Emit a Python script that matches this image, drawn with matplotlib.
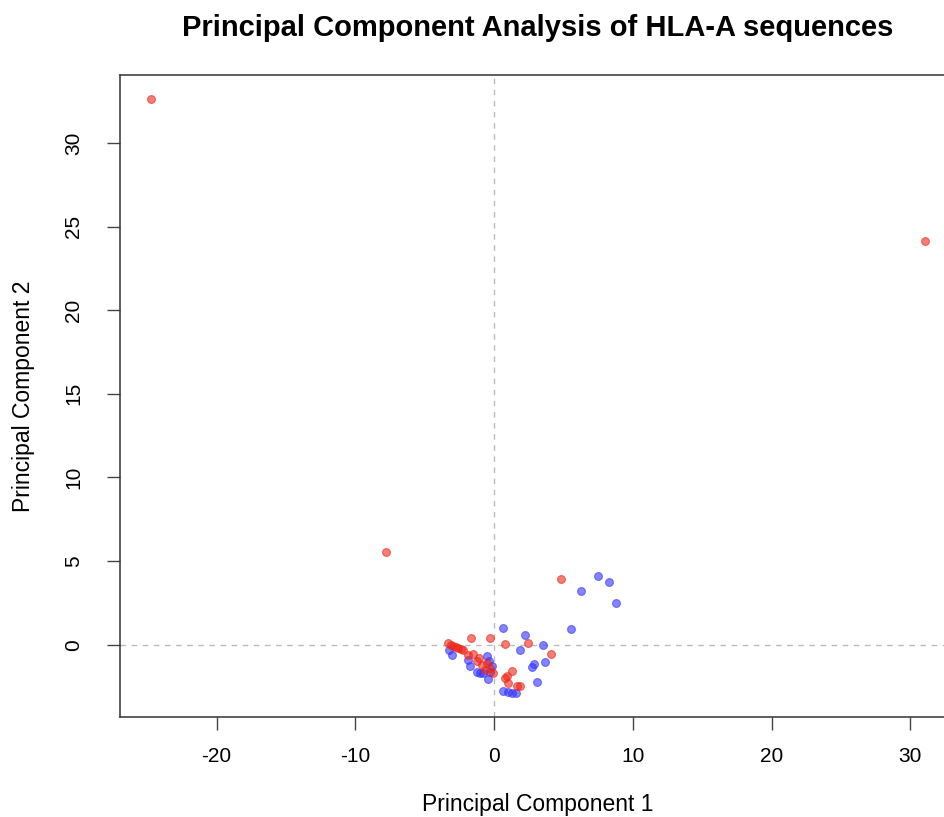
import matplotlib
matplotlib.use("Agg")
import matplotlib.pyplot as plt

plt.rcParams['font.family'] = ['Liberation Sans', 'DejaVu Sans']
plt.rcParams['axes.unicode_minus'] = False

# PCA scores
red_pc1 = [-24.73, 31.07, -7.79, 4.8, -1.65, -0.32, 0.79, 2.43, 4.1, -3.29, -3.1,
           -2.93, -2.75, -2.57, -2.4, -2.21, -1.85, -1.49, -1.25, -0.89, -0.53,
           -0.29, -0.65, 1.27, 0.96, 0.79, 1.03, 1.63, 1.87, -1.1, -0.1]
red_pc2 = [32.64, 24.15, 5.56, 3.94, 0.42, 0.42, 0.06, 0.1, -0.54, 0.08, 0.0,
           -0.06, -0.12, -0.2, -0.28, -0.34, -0.6, -0.54, -1.0, -1.2, -1.1,
           -1.4, -1.5, -1.6, -1.85, -1.97, -2.3, -2.45, -2.45, -0.8, -1.7]

blue_pc1 = [7.52, 8.29, 6.3, 8.77, 5.55, 0.62, 2.24, 3.51, 1.9, 3.65, 2.91, 2.72,
            3.08, 0.62, 1.03, 1.3, 1.56, -3.22, -3.05, -1.85, -1.73, -1.25, -1.0,
            -0.53, -0.17, -0.41, -0.29, -0.77, -0.35]
blue_pc2 = [4.08, 3.73, 3.23, 2.49, 0.96, 1.0, 0.6, -0.02, -0.34, -1.04, -1.16, -1.34,
            -2.21, -2.75, -2.85, -2.9, -2.89, -0.34, -0.64, -0.9, -1.3, -1.65, -1.69,
            -0.7, -1.3, -2.05, -1.65, -1.69, -1.0]

x_ticks = [-20, -10, 0, 10, 20, 30]
y_ticks = [0, 5, 10, 15, 20, 25, 30]

fig = plt.figure(figsize=(9.45, 8.17), dpi=100)
# the original is cropped on the right, so the box runs past the edge
ax = fig.add_axes([0.127, 0.1224, 0.8847, 0.7858])

ax.axhline(0, color='#bbbbbb', linestyle=(0, (4, 4)), linewidth=1, zorder=1)
ax.axvline(0, color='#bbbbbb', linestyle=(0, (4, 4)), linewidth=1, zorder=1)

ax.scatter(blue_pc1, blue_pc2, s=32, color=(0.2, 0.2, 1.0, 0.6),
           edgecolors=(0.2, 0.2, 1.0, 0.6), linewidths=0.8, zorder=2)
ax.scatter(red_pc1, red_pc2, s=32, color=(0.93, 0.15, 0.1, 0.6),
           edgecolors=(0.93, 0.15, 0.1, 0.6), linewidths=0.8, zorder=3)

all_x = red_pc1 + blue_pc1
all_y = red_pc2 + blue_pc2
dx = (max(all_x) - min(all_x)) * 0.04
dy = (max(all_y) - min(all_y)) * 0.04
ax.set_xlim(min(all_x) - dx, max(all_x) + dx)
ax.set_ylim(min(all_y) - dy, max(all_y) + dy)

ax.set_xticks(x_ticks)
ax.set_yticks(y_ticks)
ax.set_yticklabels([str(v) for v in y_ticks], rotation=90, va='center')
ax.tick_params(labelsize=15, length=9.5, width=1, color='#444444')
ax.tick_params(axis='x', pad=12)
ax.tick_params(axis='y', pad=17)
for s in ax.spines.values():
    s.set_linewidth(1.1)
    s.set_color('#333333')

ax.set_xlabel('Principal Component 1', fontsize=16.5)
ax.set_ylabel('Principal Component 2', fontsize=16.5)
ax.xaxis.set_label_coords(0.5, -0.137)
ax.yaxis.set_label_coords(-0.116, 0.5)
ax.xaxis.label.set_va('center')
ax.yaxis.label.set_va('center')
ax.set_title('Principal Component Analysis of HLA-A sequences', fontsize=21,
             fontweight='bold', y=1.073, va='center', pad=0)

fig.savefig('out.png', dpi=100)
